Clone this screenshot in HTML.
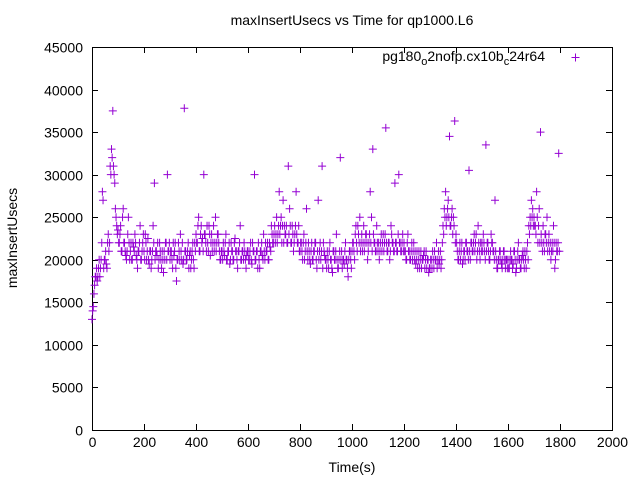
<!DOCTYPE html>
<html><head><meta charset="utf-8"><style>
body{margin:0;background:#fff}
svg{display:block;font-family:"Liberation Sans",sans-serif}
</style></head><body>
<svg id="chart" width="640" height="480" viewBox="0 0 640 480">
<text x="352" y="25" text-anchor="middle" font-size="14">maxInsertUsecs vs Time for qp1000.L6</text>
<g id="axes"></g>
<g id="points"></g>
<text x="352" y="472" text-anchor="middle" font-size="14">Time(s)</text>
<text transform="translate(17,238) rotate(-90)" text-anchor="middle" font-size="14">maxInsertUsecs</text>
<g>
<text x="545" y="61" text-anchor="end" font-size="14">pg180<tspan dy="4" font-size="11">o</tspan><tspan dy="-4">2nofp.cx10b</tspan><tspan dy="4" font-size="11">c</tspan><tspan dy="-4">24r64</tspan></text>
<path d="M571.5 57.5h8M575.5 53.5v8" stroke="#9400d3" stroke-width="1"/>
</g>
</svg>
<script>
const xTicks=[0,200,400,600,800,1000,1200,1400,1600,1800,2000];
const yTicks=[0,5000,10000,15000,20000,25000,30000,35000,40000,45000];
const stepSecs=5;
const valuesK=[
13,14.5,17,18,17.5,19,18,20,28,19,20,19.5,22,21,31,33,37.5,30,26,24,
23.5,22,24,21,26,22,20.5,21,25,20,22,20,21.5,23,20.5,19,21,24,20,22,
21,23,20,22.5,19.5,21,20,24,29,21,20.5,19,22,20,21,18.5,20,22,30,21,
20,21,19,20.5,22,17.5,20,21,23,20,19.5,37.8,21,20,22,20.5,19,21,20,22,
23,22,25,21,24,22.5,30,23,21,22,24,20.5,23,22,21,25,22,23,21,20,
21,22,20.5,23,20,21,19.5,22,21,20,22.5,21,19,21,24,20,21,22,20,20.5,
21,20,22,19.5,21,30,20,21,22,19,21,20.5,23,20,21,22,20,21.5,24,22,
23,22,25,23,28,24,22,27,24,23,22,31,26,22,24,21,23,28,22,24,
21,22,20,23,21,26,20,21,19.5,22,20,21,22,19,27,21,20,31,22,20.5,
20,21,19,22,20,18.5,21,20,23,19,20,32,21,20,19.5,22,20,18,21,20,
21,22,20,24,21,23,25,22,21,24,22,23,20,22,28,25,33,22,21,24,
21,20,22,21,23,22,35.5,21,22,20,24,22,21,29,22,21,30,22,21,23,
22,21,20,23,21,20,22,21,20,19.5,21,20,19,21,20,20.5,19,21,20,18.5,
19,20,21,19,20,22,20,19.5,21,20,24,26,28,25,27,34.5,24,26,25,36.3,
23,21,20,22,21,19.5,21,20,22,21,30.5,20,22,21,23,22,20,24,21,22,
22,23,21,33.5,22,21,20,23,22,21,27,20,19,20,21,19.5,20,21,19,20,
20,19,21,20,19.5,21,18.5,20,22,20,19,20.5,20,21,19,22,24,25,27,26,
25,24,28,22,26,35,22,24,21,23,25,22,21,20,22,24,19,22,21,32.5];
const valuesK2=[
14,16,18,19,18,20,19,22,27,20,21,19,23,22,30,32,31,29,25,23,
22,23,21,25,22,21,20,23,22,21,20,22,21,22,20,21,22,20,21,23,
20,22,21,20,21,19,21,22,20,21,22,20,21,19,20,21,22,20,21,22,
21,20,22,21,19,20,22,20,21,22,20,21,20,21,19,21,20,22,19,21,
22,24,21,23,22,21,23,22,24,21,23,22,21,24,22,21,23,22,20,21,
20,21,22,20,21,22,20,21,20,22,21,20,21,22,20,21,20,21,19,21,
20,21,20,22,21,20,21,19,20,21,22,20,21,22,21,20,22,21,23,22,
24,23,22,24,23,25,24,22,23,24,22,23,24,22,23,22,24,23,22,21,
22,21,22,20,22,21,22,20,21,20,21,22,20,21,20,22,21,19,21,20,
19,20,21,20,19,21,20,21,20,19,21,20,19,20,21,20,19,20,21,19,
22,21,23,22,24,22,21,23,22,21,23,22,21,23,22,21,23,22,21,22,
22,21,23,22,21,23,22,21,22,21,23,22,21,22,21,23,22,21,22,21,
21,20,22,21,20,21,20,22,21,20,19,21,20,19,20,21,20,19,20,19,
20,19,20,21,20,19,21,20,19,22,23,25,24,26,25,24,25,23,24,22,
22,20,21,20,22,20,21,22,21,20,21,22,21,22,21,23,21,22,20,21,
21,22,20,21,22,20,21,22,21,20,21,19,20,21,20,19,21,20,20,19,
19,20,20,19,21,20,19,21,20,19,20,21,19,20,21,20,23,24,25,24,
24,23,25,24,22,23,21,22,23,22,21,23,22,21,21,22,20,21,22,21];
const L=92,R=612,T=47,B=430;
const xs=v=>L+v/2000*(R-L);
const ys=v=>B-(v/45000)*(B-T);
const NS="http://www.w3.org/2000/svg";
const axes=document.getElementById('axes');
function mk(t,a,p){const e=document.createElementNS(NS,t);for(const k in a)e.setAttribute(k,a[k]);p.appendChild(e);return e;}
const frame=mk('rect',{x:L+0.5,y:T+0.5,width:R-L,height:B-T,fill:'none',stroke:'#000','stroke-width':1},axes);


xTicks.forEach(v=>{const x=Math.round(xs(v))+0.5;
mk('path',{d:`M${x} ${B}v-6M${x} ${T}v6`,stroke:'#000'},axes);
const t=mk('text',{x:x,y:B+17,'text-anchor':'middle','font-size':14},axes);t.textContent=v;

});
yTicks.forEach(v=>{const y=Math.round(ys(v))+0.5;
mk('path',{d:`M${L} ${y}h6M${R} ${y}h-6`,stroke:'#000'},axes);
const t=mk('text',{x:L-9,y:y+5,'text-anchor':'end','font-size':14},axes);t.textContent=v;

});
const pg=document.getElementById('points');
function plot(arr,off){arr.forEach((v,i)=>{const x=xs(i*stepSecs+off),y=ys(v*1000);
const p=mk('path',{d:`M${x-4} ${y}h8M${x} ${y-4}v8`,stroke:'#9400d3','stroke-width':1},pg);

});}
plot(valuesK,0);
plot(valuesK2,2.5);
</script>
</body></html>
